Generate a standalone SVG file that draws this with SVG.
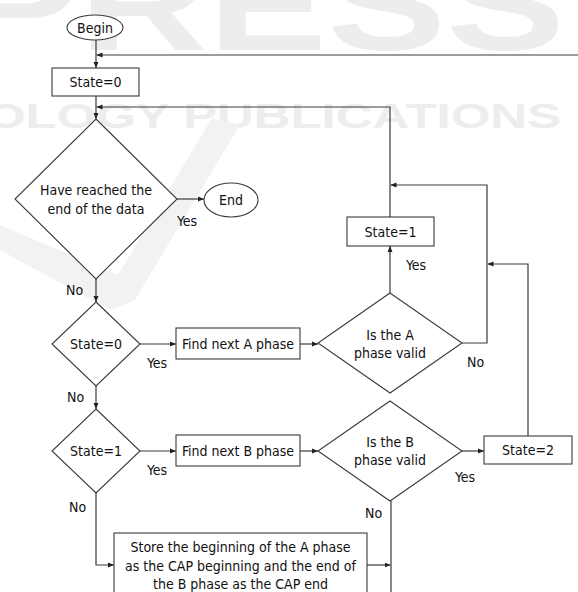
<svg xmlns="http://www.w3.org/2000/svg" width="578" height="592" viewBox="0 0 578 592">
<style>
.wm{fill:#ededed;font-family:"Liberation Sans",Arial,sans-serif;font-weight:bold}
.shape{fill:#fff;stroke:#3a3a3a;stroke-width:1.1}
.t{font-family:"DejaVu Sans Condensed","DejaVu Sans",sans-serif;font-size:14px;fill:#111;text-anchor:middle}
.l{font-family:"DejaVu Sans Condensed","DejaVu Sans",sans-serif;font-size:14px;fill:#111}
.c{fill:none;stroke:#3a3a3a;stroke-width:1.2}
</style>
<defs>
<marker id="arr" markerWidth="6" markerHeight="6" refX="6" refY="3" orient="auto" markerUnits="userSpaceOnUse">
<path d="M0,0.5 L6,3 L0,5.5 z" fill="#222"/>
</marker>
</defs>
<rect width="578" height="592" fill="#fff"/>
<g id="watermark">
<text class="wm" x="-40" y="50" font-size="130" textLength="605" lengthAdjust="spacingAndGlyphs">PRESS</text>
<text class="wm" x="-14" y="128" font-size="35" textLength="575" lengthAdjust="spacingAndGlyphs">OLOGY PUBLICATIONS</text>
<polygon points="0,225 0,250 110,310 135,300 240,125 212,118 118,275" fill="#f2f2f2"/>
</g>
<g id="connectors">
<path class="c" d="M96,40 V68" marker-end="url(#arr)"/>
<path class="c" d="M578,55 H96.5" marker-end="url(#arr)"/>
<path class="c" d="M96,96 V119" marker-end="url(#arr)"/>
<path class="c" d="M390,217 V107 H96.5" marker-end="url(#arr)"/>
<path class="c" d="M177,199 H204" marker-end="url(#arr)"/>
<path class="c" d="M96,279 V302" marker-end="url(#arr)"/>
<path class="c" d="M140,344 H176" marker-end="url(#arr)"/>
<path class="c" d="M300,344 H318" marker-end="url(#arr)"/>
<path class="c" d="M390,293 V246" marker-end="url(#arr)"/>
<path class="c" d="M462,343 H487 V185 H390.5" marker-end="url(#arr)"/>
<path class="c" d="M96,386 V409" marker-end="url(#arr)"/>
<path class="c" d="M140,451 H176" marker-end="url(#arr)"/>
<path class="c" d="M300,451 H318" marker-end="url(#arr)"/>
<path class="c" d="M462,451 H484" marker-end="url(#arr)"/>
<path class="c" d="M528,436 V264 H487.5" marker-end="url(#arr)"/>
<path class="c" d="M96,493 V565 H114" marker-end="url(#arr)"/>
<path class="c" d="M367,565 H390.5" marker-end="url(#arr)"/>
<path class="c" d="M391,501 V600"/>
</g>
<g id="begin">
<ellipse class="shape" cx="95" cy="27.5" rx="28" ry="12.5"/>
<text class="t" x="95" y="32.5">Begin</text>
</g>
<g id="state0">
<rect class="shape" x="52" y="68" width="87" height="28"/>
<text class="t" x="95.5" y="87">State=0</text>
</g>
<g id="endcheck">
<polygon class="shape" points="96,119 177,199 96,279 15,199"/>
<text class="t" x="96" y="195">Have reached the</text>
<text class="t" x="96" y="214">end of the data</text>
</g>
<g id="end">
<ellipse class="shape" cx="231" cy="200" rx="27" ry="17"/>
<text class="t" x="231" y="205">End</text>
</g>
<g id="isstate0">
<polygon class="shape" points="96,302 140,344 96,386 52,344"/>
<text class="t" x="96" y="349">State=0</text>
</g>
<g id="findA">
<rect class="shape" x="176" y="328" width="124" height="31"/>
<text class="t" x="238" y="348.5">Find next A phase</text>
</g>
<g id="validA">
<polygon class="shape" points="390,293 462,343 390,393 318,343"/>
<text class="t" x="390" y="340">Is the A</text>
<text class="t" x="390" y="358">phase valid</text>
</g>
<g id="state1">
<rect class="shape" x="347" y="217" width="87" height="29"/>
<text class="t" x="390.5" y="236.5">State=1</text>
</g>
<g id="isstate1">
<polygon class="shape" points="96,409 140,451 96,493 52,451"/>
<text class="t" x="96" y="456">State=1</text>
</g>
<g id="findB">
<rect class="shape" x="176" y="435" width="124" height="31"/>
<text class="t" x="238" y="455.5">Find next B phase</text>
</g>
<g id="validB">
<polygon class="shape" points="390,401 462,451 390,501 318,451"/>
<text class="t" x="390" y="447">Is the B</text>
<text class="t" x="390" y="465">phase valid</text>
</g>
<g id="state2">
<rect class="shape" x="484" y="436" width="88" height="28"/>
<text class="t" x="528" y="455">State=2</text>
</g>
<g id="store">
<rect class="shape" x="114" y="533" width="253" height="70"/>
<text class="t" x="240.5" y="552">Store the beginning of the A phase</text>
<text class="t" x="240.5" y="571">as the CAP beginning and the end of</text>
<text class="t" x="240.5" y="589">the B phase as the CAP end</text>
</g>
<g id="labels">
<text class="l" x="177" y="226">Yes</text>
<text class="l" x="66" y="295">No</text>
<text class="l" x="147" y="368">Yes</text>
<text class="l" x="67" y="402">No</text>
<text class="l" x="406" y="270">Yes</text>
<text class="l" x="467" y="367">No</text>
<text class="l" x="147" y="475">Yes</text>
<text class="l" x="69" y="512">No</text>
<text class="l" x="455" y="482">Yes</text>
<text class="l" x="365" y="518">No</text>
</g>
</svg>
